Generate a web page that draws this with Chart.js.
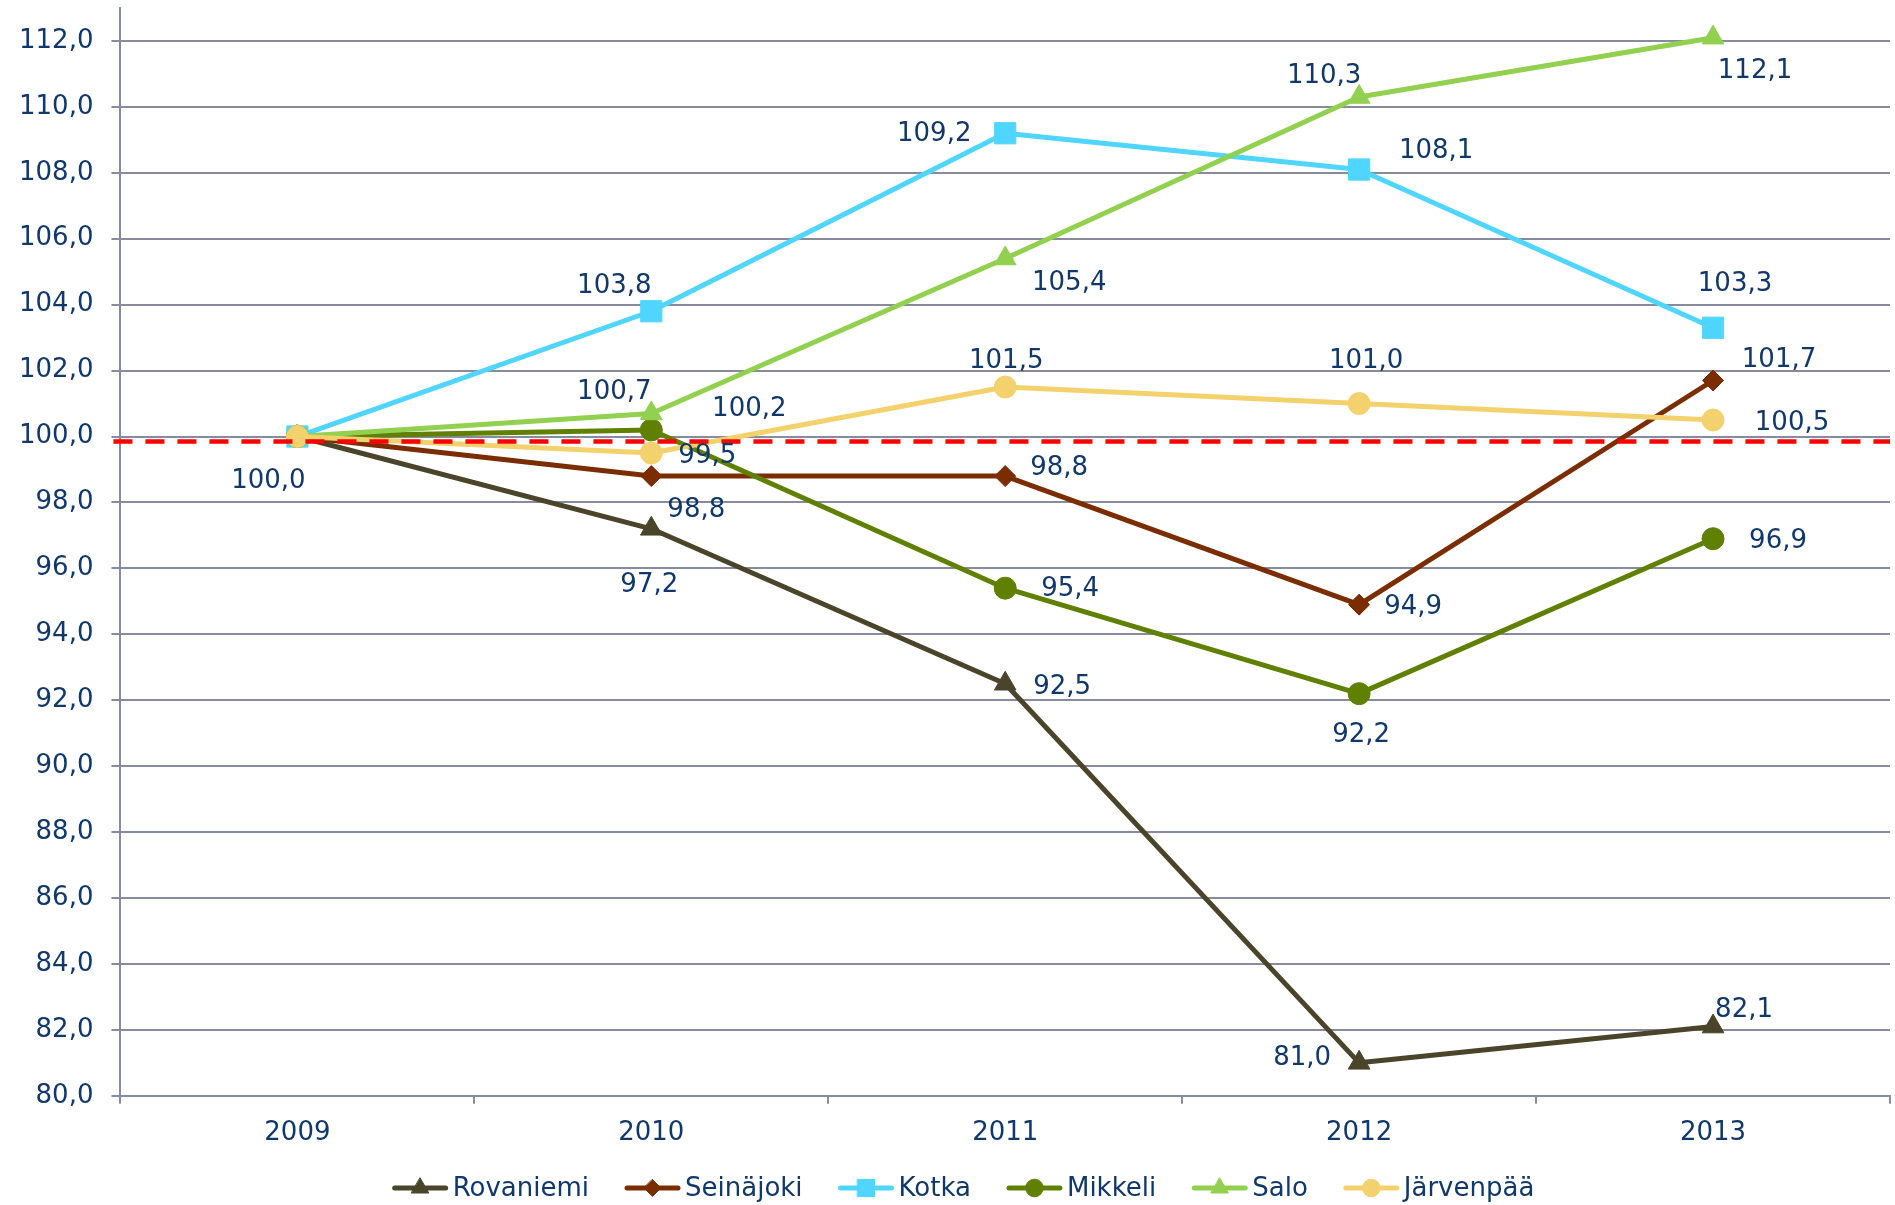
<!DOCTYPE html>
<html>
<head>
<meta charset="utf-8">
<script src="https://cdn.jsdelivr.net/npm/chart.js@4/dist/chart.umd.min.js"></script>
<style>
html,body{margin:0;padding:0;background:#ffffff;}
#wrap{width:1895px;height:1205px;position:relative;}
</style>
</head>
<body>
<div id="wrap"><canvas id="c" width="1895" height="1205"></canvas></div>
<script>
// ---- data ----
const categories = ['2009', '2010', '2011', '2012', '2013'];
const seriesNames = ['Rovaniemi', 'Seinäjoki', 'Kotka', 'Mikkeli', 'Salo', 'Järvenpää'];
const rovaniemi = [100.0, 97.2, 92.5, 81.0, 82.1];
const seinajoki = [100.0, 98.8, 98.8, 94.9, 101.7];
const kotka     = [100.0, 103.8, 109.2, 108.1, 103.3];
const mikkeli   = [100.0, 100.2, 95.4, 92.2, 96.9];
const salo      = [100.0, 100.7, 105.4, 110.3, 112.1];
const jarvenpaa = [100.0, 99.5, 101.5, 101.0, 100.5];
const referenceLevel = 99.85;
const yMin = 80, yMax = 113, yStep = 2;

// ---- styles ----
const TEXT = '#11386A';
const GRID = '#878B9D';
const FONT = 'Verdana, "DejaVu Sans", sans-serif';
const colors = ['#4A452A', '#7B2D00', '#50D5FF', '#5F8000', '#92D050', '#F3D16D'];
const styles = ['triangle', 'rectRot', 'rect', 'circle', 'triangle', 'circle'];
const radii = [12.5, 10.5, 15, 11, 12.5, 11];

// label offsets (pixels, relative to point) per series / category; null = no label
const labelOffsets = [
  [[-29, 45], [-2, 56], [57, 3], [-57, -5], [31, -16]],
  [null, [45, 34], [54, -8], [54, 3], [66, -20]],
  [null, [-37, -25], [-71, 1], [77, -18], [22, -43]],
  [null, [98, -21], [65, 1], [2, 42], [65, 3]],
  [null, [-37, -21], [64, 25], [-35, -21], [42, 34]],
  [null, [56, 3], [1, -26], [7, -42], [79, 3]]
];

const fmt = v => v.toFixed(1).replace('.', ',');

const allSeries = [rovaniemi, seinajoki, kotka, mikkeli, salo, jarvenpaa];
const datasets = allSeries.map((vals, i) => ({
  label: seriesNames[i],
  data: vals,
  borderColor: colors[i],
  backgroundColor: colors[i],
  pointBackgroundColor: colors[i],
  pointBorderColor: colors[i],
  pointBorderWidth: 1,
  pointStyle: styles[i],
  pointRadius: radii[i],
  borderWidth: 5,
  borderCapStyle: 'round',
  borderJoinStyle: 'round',
  tension: 0,
  fill: false,
  clip: false,
  order: allSeries.length - i
}));

function drawMarker(ctx, style, r, x, y) {
  ctx.beginPath();
  if (style === 'circle') {
    ctx.arc(x, y, r, 0, Math.PI * 2);
  } else if (style === 'rect') {
    const s = Math.SQRT1_2 * r;
    ctx.rect(x - s, y - s, 2 * s, 2 * s);
  } else if (style === 'rectRot') {
    ctx.moveTo(x, y - r); ctx.lineTo(x + r, y); ctx.lineTo(x, y + r); ctx.lineTo(x - r, y);
    ctx.closePath();
  } else if (style === 'triangle') {
    const a = Math.PI * 2 / 3;
    ctx.moveTo(x, y - r);
    ctx.lineTo(x + Math.sin(a) * r, y - Math.cos(a) * r);
    ctx.lineTo(x - Math.sin(a) * r, y - Math.cos(a) * r);
    ctx.closePath();
  }
  ctx.fill();
  ctx.stroke();
}

const refLinePlugin = {
  id: 'refLine',
  afterDatasetsDraw(chart) {
    const ctx = chart.ctx, ca = chart.chartArea;
    const y = chart.scales.y.getPixelForValue(referenceLevel);
    ctx.save();
    ctx.strokeStyle = '#FF0000';
    ctx.lineWidth = 4.5;
    ctx.setLineDash([19, 13]);
    ctx.beginPath();
    ctx.moveTo(ca.left - 7, y);
    ctx.lineTo(ca.right, y);
    ctx.stroke();
    ctx.restore();
  }
};

const labelPlugin = {
  id: 'pointLabels',
  afterDatasetsDraw(chart) {
    const ctx = chart.ctx;
    ctx.save();
    ctx.font = '26px ' + FONT;
    ctx.fillStyle = TEXT;
    ctx.textAlign = 'center';
    ctx.textBaseline = 'middle';
    chart.data.datasets.forEach((ds, di) => {
      const meta = chart.getDatasetMeta(di);
      meta.data.forEach((pt, j) => {
        const off = labelOffsets[di][j];
        if (!off) return;
        ctx.fillText(fmt(ds.data[j]), pt.x + off[0], pt.y + off[1]);
      });
    });
    ctx.restore();
  }
};

const legendPlugin = {
  id: 'lineLegend',
  afterDraw(chart) {
    const ctx = chart.ctx;
    const lineLen = 57, textGap = 4, itemGap = 35;
    const y = 1188;
    ctx.save();
    ctx.font = '26px ' + FONT;
    const dss = chart.data.datasets;
    const widths = dss.map(d => lineLen + textGap + ctx.measureText(d.label).width);
    const total = widths.reduce((a, b) => a + b, 0) + itemGap * (dss.length - 1);
    let x = 963 - total / 2;
    dss.forEach((d, i) => {
      ctx.strokeStyle = d.borderColor;
      ctx.lineWidth = 5;
      ctx.lineCap = 'round';
      ctx.beginPath();
      ctx.moveTo(x + 3, y);
      ctx.lineTo(x + lineLen - 3, y);
      ctx.stroke();
      ctx.fillStyle = d.pointBackgroundColor;
      ctx.lineWidth = 1;
      drawMarker(ctx, d.pointStyle, d.pointRadius * 0.8, x + lineLen / 2, y);
      ctx.fillStyle = TEXT;
      ctx.textAlign = 'left';
      ctx.textBaseline = 'middle';
      ctx.fillText(d.label, x + lineLen + textGap, y + 1);
      x += widths[i] + itemGap;
    });
    ctx.restore();
  }
};

Chart.defaults.font.family = FONT;
Chart.defaults.font.size = 26;
Chart.defaults.color = TEXT;

const zeroPad = s => { s.paddingTop = 0; s.paddingBottom = 0; s.paddingLeft = 0; s.paddingRight = 0; };

new Chart(document.getElementById('c'), {
  type: 'line',
  data: { labels: categories, datasets },
  options: {
    responsive: false,
    animation: false,
    devicePixelRatio: 1,
    layout: { autoPadding: false, padding: { left: 1, top: 8, right: 5, bottom: 42 } },
    plugins: {
      legend: { display: false },
      tooltip: { enabled: false },
      title: { display: false }
    },
    scales: {
      x: {
        type: 'category',
        offset: true,
        afterFit: zeroPad,
        grid: {
          display: true,
          drawOnChartArea: false,
          drawTicks: true,
          offset: true,
          tickLength: 8,
          color: GRID,
          lineWidth: 2
        },
        border: { display: true, color: GRID, width: 2 },
        ticks: { color: TEXT, font: { size: 26, family: FONT }, padding: 14, maxRotation: 0 }
      },
      y: {
        min: yMin,
        max: yMax,
        afterFit: zeroPad,
        grid: { color: GRID, lineWidth: 2, tickLength: 9, drawTicks: true },
        border: { display: true, color: GRID, width: 2 },
        ticks: {
          stepSize: yStep,
          color: TEXT,
          font: { size: 26, family: FONT },
          padding: 18,
          callback: v => (Math.abs(v % 2) < 1e-9 ? fmt(v) : null)
        }
      }
    }
  },
  plugins: [refLinePlugin, labelPlugin, legendPlugin]
});
</script>
</body>
</html>
